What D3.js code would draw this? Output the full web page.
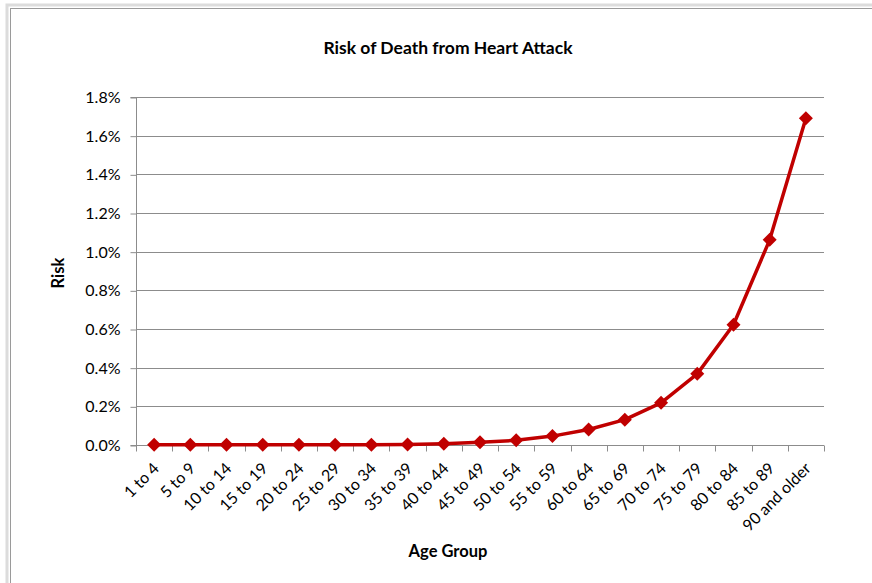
<!DOCTYPE html>
<html>
<head>
<meta charset="utf-8">
<script src="https://cdn.jsdelivr.net/npm/d3@7"></script>
<style>
  html, body { margin: 0; padding: 0; background: #fff; }
  svg { display: block; }
  text { font-family: Lato, "Open Sans", "Liberation Sans", sans-serif; fill: #000; }
</style>
</head>
<body>
<script>
// Age groups along the x axis
const ageGroups = ["1 to 4", "5 to 9", "10 to 14", "15 to 19", "20 to 24", "25 to 29",
  "30 to 34", "35 to 39", "40 to 44", "45 to 49", "50 to 54", "55 to 59", "60 to 64",
  "65 to 69", "70 to 74", "75 to 79", "80 to 84", "85 to 89", "90 and older"];

// Risk of death (fraction) per age group
const riskValues = [0.00001, 0.00001, 0.00001, 0.00001, 0.00001, 0.00001,
  0.00001, 0.00002, 0.00006, 0.00014, 0.00024, 0.00046, 0.0008,
  0.00131, 0.00218, 0.00368, 0.00622, 0.01061, 0.0169];

// Y axis tick values
const yTicks = [0, 0.002, 0.004, 0.006, 0.008, 0.010, 0.012, 0.014, 0.016, 0.018];

const W = 872, H = 583;
const plot = { left: 136, right: 824, top: 97, bottom: 445 };

const svg = d3.select("body").append("svg").attr("width", W).attr("height", H);

// chart frame
svg.append("rect").attr("x", 7).attr("y", 5).attr("width", W + 10).attr("height", H + 10)
  .attr("fill", "none").attr("stroke", "#dcdcdc").attr("stroke-width", 3);
svg.append("rect").attr("x", 10.5).attr("y", 8.5).attr("width", W + 10).attr("height", H + 10)
  .attr("fill", "none").attr("stroke", "#9a9a9a").attr("stroke-width", 1);

const x = d3.scaleBand().domain(ageGroups).range([plot.left, plot.right]);
const y = d3.scaleLinear().domain([0, 0.018]).range([plot.bottom, plot.top]);

// horizontal gridlines
svg.append("g").selectAll("line").data(yTicks.slice(1)).join("line")
  .attr("x1", plot.left).attr("x2", plot.right)
  .attr("y1", d => Math.round(y(d)) + 0.5).attr("y2", d => Math.round(y(d)) + 0.5)
  .attr("stroke", "#8c8c8c").attr("stroke-width", 1);

// y axis
const yAxis = svg.append("g")
  .attr("transform", `translate(${plot.left + 0.5},0.5)`)
  .call(d3.axisLeft(y).tickValues(yTicks).tickFormat(d3.format(".1%")).tickSize(6).tickPadding(10));
yAxis.select(".domain").attr("stroke", "#8c8c8c").attr("d", `M-6,${plot.top}H0V${plot.bottom}H-6`);
yAxis.selectAll(".tick line").attr("stroke", "#8c8c8c");
yAxis.selectAll(".tick text").attr("font-size", 16).attr("fill", "#000");

// x axis with ticks between categories
const xAxisG = svg.append("g").attr("transform", `translate(0,${plot.bottom + 0.5})`);
xAxisG.append("line").attr("x1", plot.left).attr("x2", plot.right)
  .attr("stroke", "#8c8c8c");
const bounds = ageGroups.map(d => x(d)).concat([plot.right]);
xAxisG.selectAll("line.tk").data(bounds).join("line").attr("class", "tk")
  .attr("x1", d => Math.round(d) + 0.5).attr("x2", d => Math.round(d) + 0.5)
  .attr("y1", 0).attr("y2", 6).attr("stroke", "#8c8c8c");
xAxisG.selectAll("text").data(ageGroups).join("text")
  .attr("transform", d => `translate(${x(d) + x.bandwidth() / 2 + 2},${20}) rotate(-45)`)
  .attr("text-anchor", "end").attr("dy", "0.35em")
  .attr("font-size", 16)
  .text(d => d);

// data line
const line = d3.line().x(d => x(d.g) + x.bandwidth() / 2).y(d => y(d.v));
const pts = ageGroups.map((g, i) => ({ g, v: riskValues[i] }));
svg.append("path").datum(pts).attr("d", line)
  .attr("fill", "none").attr("stroke", "#c00000").attr("stroke-width", 3.5)
  .attr("stroke-linejoin", "round");

// diamond markers
svg.append("g").selectAll("path").data(pts).join("path")
  .attr("transform", d => `translate(${x(d.g) + x.bandwidth() / 2},${y(d.v)})`)
  .attr("d", "M0,-7L7,0L0,7L-7,0Z")
  .attr("fill", "#c00000");

// titles
svg.append("text").attr("x", 448).attr("y", 54).attr("text-anchor", "middle")
  .attr("font-size", 17.5).attr("font-weight", "bold").text("Risk of Death from Heart Attack");
svg.append("text").attr("transform", `translate(64,${(plot.top + plot.bottom) / 2 + 2}) rotate(-90)`)
  .attr("text-anchor", "middle").attr("font-size", 16.5).attr("font-weight", "bold").text("Risk");
svg.append("text").attr("x", 448).attr("y", 557).attr("text-anchor", "middle")
  .attr("font-size", 16.5).attr("font-weight", "bold").text("Age Group");
</script>
</body>
</html>
